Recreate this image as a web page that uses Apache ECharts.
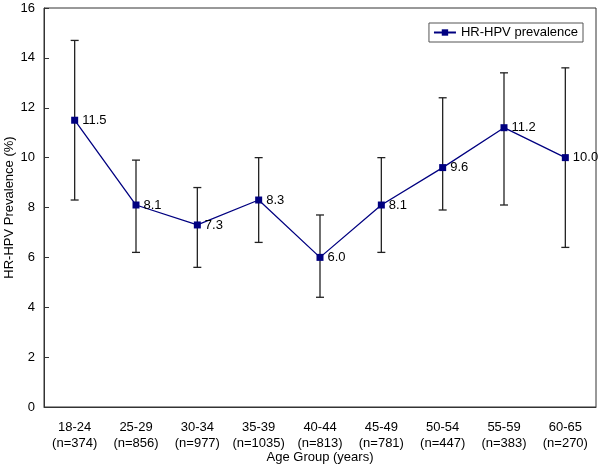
<!DOCTYPE html>
<html>
<head>
<meta charset="utf-8">
<script src="https://cdn.jsdelivr.net/npm/echarts@6/dist/echarts.min.js"></script>
<style>html,body{margin:0;padding:0;background:#fff;}#c{width:600px;height:465px;}</style>
</head>
<body>
<div id="c"></div>
<script>
var categories = ['18-24\n(n=374)', '25-29\n(n=856)', '30-34\n(n=977)', '35-39\n(n=1035)', '40-44\n(n=813)', '45-49\n(n=781)', '50-54\n(n=447)', '55-59\n(n=383)', '60-65\n(n=270)'];
var prevalence = [11.5, 8.1, 7.3, 8.3, 6.0, 8.1, 9.6, 11.2, 10.0];
var upper = [14.7, 9.9, 8.8, 10.0, 7.7, 10.0, 12.4, 13.4, 13.6];
var lower = [8.3, 6.2, 5.6, 6.6, 4.4, 6.2, 7.9, 8.1, 6.4];

var errData = categories.map(function (c, i) { return [i, lower[i], upper[i]]; });
var font = 'Liberation Sans, Arial, sans-serif';
var chart = echarts.init(document.getElementById('c'), null, {renderer: 'canvas'});
chart.setOption({
  animation: false,
  backgroundColor: '#fff',
  textStyle: {fontFamily: font},
  grid: {left: 44, right: 4, top: 8, bottom: 58, show: true, borderColor: '#333', borderWidth: 1, containLabel: false, outerBoundsMode: 'none'},
  legend: {
    data: ['HR-HPV prevalence'],
    right: 17, top: 23,
    borderColor: '#555', borderWidth: 1, padding: [3, 5, 3, 4],
    itemWidth: 22, itemHeight: 8, itemGap: 4,
    textStyle: {fontSize: 13, color: '#000', fontFamily: font}
  },
  xAxis: {
    type: 'category', data: categories, boundaryGap: true,
    name: 'Age Group (years)', nameLocation: 'middle', nameGap: 44, nameMoveOverlap: false,
    nameTextStyle: {fontSize: 13, color: '#000', fontFamily: font},
    axisLine: {lineStyle: {color: '#333', width: 1}},
    axisTick: {inside: true, length: 5, lineStyle: {color: '#333'}},
    axisLabel: {interval: 0, fontSize: 13, color: '#000', margin: 12, lineHeight: 16, fontFamily: font},
    splitLine: {show: false}
  },
  yAxis: {
    type: 'value', min: 0, max: 16, interval: 2,
    name: 'HR-HPV Prevalence (%)', nameLocation: 'middle', nameGap: 28, nameMoveOverlap: false,
    nameTextStyle: {fontSize: 13, color: '#000', fontFamily: font},
    axisLine: {show: true, lineStyle: {color: '#333', width: 1}},
    axisTick: {show: true, inside: true, length: 5, lineStyle: {color: '#333'}},
    axisLabel: {fontSize: 13, color: '#000', margin: 9, fontFamily: font},
    splitLine: {show: false}
  },
  series: [
    {
      type: 'custom', name: 'err', data: errData, z: 1, silent: true,
      renderItem: function (params, api) {
        var i = api.value(0);
        var lo = api.coord([i, api.value(1)]);
        var hi = api.coord([i, api.value(2)]);
        var w = 4;
        var st = {stroke: '#222', lineWidth: 1.3};
        return {type: 'group', children: [
          {type: 'line', shape: {x1: hi[0], y1: hi[1], x2: lo[0], y2: lo[1]}, style: st},
          {type: 'line', shape: {x1: hi[0] - w, y1: hi[1], x2: hi[0] + w, y2: hi[1]}, style: st},
          {type: 'line', shape: {x1: lo[0] - w, y1: lo[1], x2: lo[0] + w, y2: lo[1]}, style: st}
        ]};
      }
    },
    {
      type: 'line', name: 'HR-HPV prevalence', data: prevalence, z: 3,
      symbol: 'rect', symbolSize: 7,
      lineStyle: {color: '#000080', width: 1.3},
      itemStyle: {color: '#000080'},
      label: {show: true, position: 'right', distance: 4, fontSize: 13, color: '#000', fontFamily: font,
        formatter: function (p) { return p.value.toFixed(1); }}
    }
  ]
});
</script>
</body>
</html>
